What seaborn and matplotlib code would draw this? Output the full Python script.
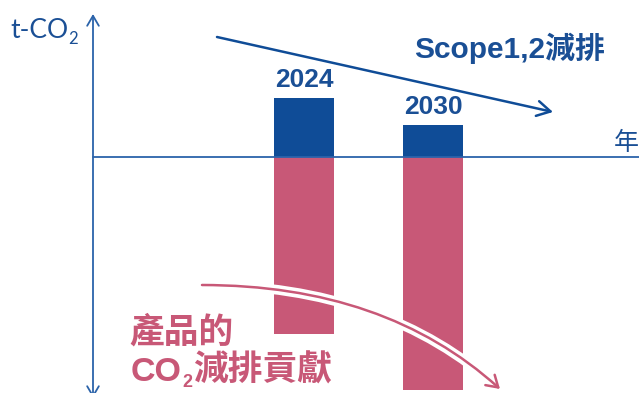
import numpy as np
import pandas as pd
import matplotlib
matplotlib.use("Agg")
import matplotlib.pyplot as plt
import seaborn as sns
from matplotlib.patches import FancyArrowPatch
from matplotlib.path import Path

years = ["2024", "2030"]
scope12 = [59, 32]
product = [-177, -233]

sns.set_theme(style="white")
plt.rcParams['font.family'] = ['Noto Sans CJK TC', 'DejaVu Sans']

BLUE_BAR = "#0f4c97"
PINK = "#c85877"
BLUE_TXT = "#1a4f95"
AXIS_BLUE = "#2b63aa"
LATIN_CJK = ['Liberation Sans', 'Noto Sans CJK TC']

fig = plt.figure(figsize=(6.39, 3.93), dpi=100)
ax = fig.add_axes([0, 0, 1, 1])

df_s = pd.DataFrame({"year": years, "value": scope12})
df_p = pd.DataFrame({"year": years, "value": product})
sns.barplot(data=df_s, x="year", y="value", color=BLUE_BAR, saturation=1,
            width=0.465, linewidth=0, errorbar=None, ax=ax)
sns.barplot(data=df_p, x="year", y="value", color=PINK, saturation=1,
            width=0.465, linewidth=0, errorbar=None, ax=ax)

def px(x):
    return (x - 304) / 129.0

def py(y):
    return 157 - y

ax.set_xlim(px(0), px(639))
ax.set_ylim(py(393), py(0))
ax.axis("off")

# year labels above blue bars
for i, (yr, v) in enumerate(zip(years, scope12)):
    ax.text(i, v + 6, yr, ha="center", va="bottom", fontsize=19,
            fontweight="bold", color=BLUE_TXT, family=LATIN_CJK)

# zero line
ax.plot([px(93), px(639)], [0, 0], color=AXIS_BLUE, lw=1.3, zorder=5)

# y axis with arrows both ends
ax.annotate("", xy=(px(93), py(14)), xytext=(px(93), py(398)),
            arrowprops=dict(arrowstyle="<->,head_length=0.6,head_width=0.35",
                            color=AXIS_BLUE, lw=1.3, shrinkA=0, shrinkB=0))


def rich(x, y, parts, color, weight, family):
    """parts: list of (text, fontsize, baseline offset in points, gap in points)"""
    prev = None
    for txt, fs, dy, gap in parts:
        if prev is None:
            prev = ax.text(x, y, txt, ha="left", va="baseline", fontsize=fs,
                           color=color, fontweight=weight, family=family)
            base_y = y
        else:
            prev = ax.annotate(txt, xy=(1, base_y), xycoords=(prev, "data"),
                               xytext=(gap, dy), textcoords="offset points",
                               ha="left", va="baseline", fontsize=fs,
                               color=color, fontweight=weight, family=family)
    return prev

rich(px(10), py(38), [("t-CO", 19, 0, 0), ("2", 12, -4, 0.3)],
     BLUE_TXT, "normal", ['Lato', 'DejaVu Sans'])

ax.text(px(639), py(143), "年", ha="right", va="center", fontsize=18,
        color=BLUE_TXT)

# straight arrow for scope 1,2
ax.annotate("", xy=(px(553), py(112)), xytext=(px(217), py(37)),
            arrowprops=dict(arrowstyle="->,head_length=0.8,head_width=0.45",
                            color=BLUE_BAR, lw=1.8, shrinkA=0, shrinkB=0))
ax.text(px(605), py(48), "Scope1,2減排", ha="right", va="center",
        fontsize=21.5, fontweight="bold", color=BLUE_TXT, family=LATIN_CJK)

# curved arrow for product contribution (quadratic Bezier)
verts = [(px(202), py(285)), (px(385), py(285)), (px(500), py(389))]
codes = [Path.MOVETO, Path.CURVE3, Path.CURVE3]
white = FancyArrowPatch(path=Path(verts, codes), arrowstyle="-",
                        color="white", lw=7, zorder=6)
ax.add_patch(white)
arr = FancyArrowPatch(path=Path(verts, codes),
                      arrowstyle="->,head_length=8,head_width=5",
                      color=PINK, lw=1.8, zorder=7)
ax.add_patch(arr)

ax.text(px(129), py(343), "產品的", ha="left", va="baseline", fontsize=25,
        fontweight="bold", color=PINK)
rich(px(131), py(381), [("CO", 24.5, 0, 0), ("2", 13, -4, 0.5),
                        ("減排貢獻", 25, 0, 0.5)],
     PINK, "bold", LATIN_CJK)

fig.savefig("out.png", dpi=100, facecolor="white")
